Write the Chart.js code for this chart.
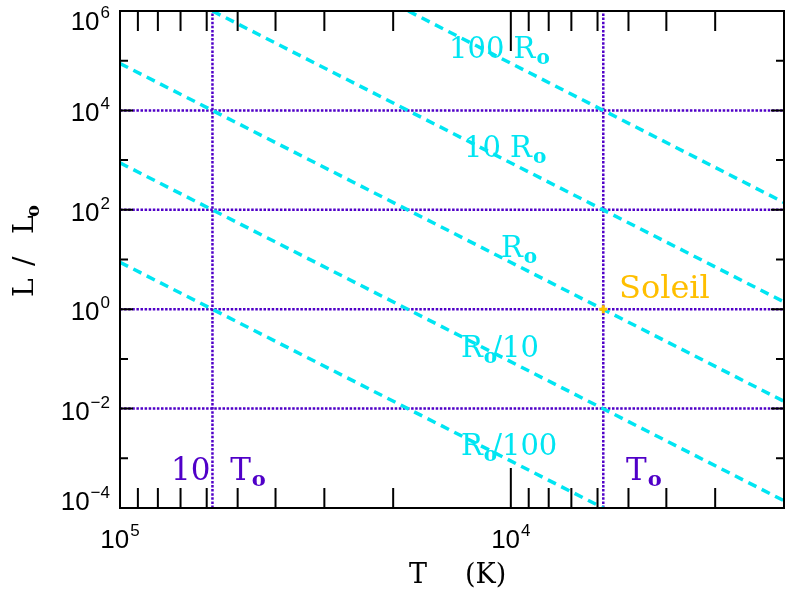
<!DOCTYPE html>
<html lang="fr">
<head>
<meta charset="UTF-8">
<title>L - T</title>
<script src="https://cdn.jsdelivr.net/npm/chart.js"></script>
<style>
  body { margin: 0; background: #fff; }
</style>
</head>
<body>
<canvas id="hr" width="800" height="600"></canvas>
<script>
// droites de rayon constant : extrémités [T, L]
const rayons = ['100 R', '10 R', 'R', 'R/10', 'R/100'];
const debut = [[18300, 1e6], [58000, 1e6], [1e5, 8.8e4], [1e5, 8.8e2], [1e5, 8.8]];
const fin = [[2000, 1.4e2], [2000, 1.4], [2000, 1.4e-2], [2000, 1.4e-4], [5800, 1e-4]];
// lignes pointillées
const grilleL = [1e4, 1e2, 1, 1e-2];
const grilleT = [58000, 5800];
const soleil = [5800, 1];
// graduations
const xExp = [5, 4];
const yExp = [-4, -2, 0, 2, 4, 6];
const xMineur = [90000, 80000, 70000, 60000, 50000, 40000, 30000, 20000,
                 9000, 8000, 7000, 6000, 5000, 4000, 3000, 2000];
const yMineur = [1e5, 1e3, 10, 0.1, 1e-3];

const CYAN = '#00e5f2';
const VIOLET = '#5000c8';
const OR = '#ffbf00';
const SERIF = '"DejaVu Serif"';
const SANS = '"Liberation Sans"';

const datasets = [];
grilleL.forEach(L => datasets.push({
  data: [{x: 1e5, y: L}, {x: 2000, y: L}],
  borderColor: VIOLET, borderWidth: 2.5, borderDash: [2.5, 1.6], pointRadius: 0, order: 3
}));
grilleT.forEach(T => datasets.push({
  data: [{x: T, y: 1e-4}, {x: T, y: 1e6}],
  borderColor: VIOLET, borderWidth: 2.5, borderDash: [2.5, 1.6], pointRadius: 0, order: 3
}));
rayons.forEach((r, i) => datasets.push({
  label: r,
  data: [{x: debut[i][0], y: debut[i][1]}, {x: fin[i][0], y: fin[i][1]}],
  borderColor: CYAN, borderWidth: 3.5, borderDash: [9, 6], pointRadius: 0, order: 2
}));
// le Soleil, par-dessus les droites
datasets.push({
  data: [{x: soleil[0], y: soleil[1]}],
  showLine: false, pointStyle: 'cross', pointRadius: 4, borderWidth: 3,
  borderColor: OR, backgroundColor: OR, order: 0
});

// texte en morceaux (indices, exposants)
function morceaux(ctx, parts, x, y, align) {
  let w = 0;
  parts.forEach(p => { ctx.font = p.f; p.w = ctx.measureText(p.t).width + (p.dx || 0); w += p.w; });
  let cx = align === 'right' ? x - w : align === 'center' ? x - w / 2 : x;
  parts.forEach(p => { ctx.font = p.f; ctx.fillText(p.t, cx + (p.dx || 0), y + (p.dy || 0)); cx += p.w; });
}
const n = (t, s) => ({t: t, f: s + 'px ' + SERIF});
const sub = (s) => ({t: 'o', f: 'bold ' + Math.round(s * 0.68) + 'px ' + SERIF, dy: 6, dx: 1});

const cadre = {
  id: 'cadre',
  afterDraw(chart) {
    const ctx = chart.ctx, a = chart.chartArea;
    const sx = chart.scales.x, sy = chart.scales.y;
    ctx.save();
    ctx.strokeStyle = '#000';
    ctx.lineWidth = 2;
    ctx.strokeRect(a.left, a.top, a.right - a.left, a.bottom - a.top);

    // graduations vers l'intérieur, sur les quatre côtés
    ctx.beginPath();
    const tx = (v, len) => {
      const px = sx.getPixelForValue(v);
      ctx.moveTo(px, a.bottom); ctx.lineTo(px, a.bottom - len);
      ctx.moveTo(px, a.top); ctx.lineTo(px, a.top + len);
    };
    const ty = (v, len) => {
      const py = sy.getPixelForValue(v);
      ctx.moveTo(a.left, py); ctx.lineTo(a.left + len, py);
      ctx.moveTo(a.right, py); ctx.lineTo(a.right - len, py);
    };
    xMineur.forEach(v => tx(v, 20));
    xExp.forEach(e => tx(Math.pow(10, e), 40));
    yMineur.forEach(v => ty(v, 8));
    yExp.forEach(e => ty(Math.pow(10, e), 13));
    ctx.stroke();

    // étiquettes des graduations
    ctx.fillStyle = '#000';
    ctx.textBaseline = 'alphabetic';
    const lab = e => [{t: '10', f: '26px ' + SANS},
                      {t: String(e).replace('-', '\u2212'), f: '17px ' + SANS, dy: -12, dx: 1}];
    xExp.forEach(e => morceaux(ctx, lab(e), sx.getPixelForValue(Math.pow(10, e)), 548, 'center'));
    yExp.forEach(e => {
      let b = sy.getPixelForValue(Math.pow(10, e)) + 11;
      b = Math.min(Math.max(b, 30), 510);
      morceaux(ctx, lab(e), 110, b, 'right');
    });

    // titres des axes
    ctx.font = '27px ' + SERIF;
    ctx.fillText('T', 409, 583);
    ctx.fillText('(K)', 465, 583);
    ctx.save();
    ctx.translate(33, 297);
    ctx.rotate(-Math.PI / 2);
    ctx.font = '28px ' + SERIF;
    ctx.fillText('L', 0, 0);
    ctx.fillText('/', 31, 0);
    ctx.fillText('L', 63, 0);
    ctx.font = 'bold 18px ' + SERIF;
    ctx.fillText('o', 80, 6);
    ctx.restore();

    // noms des droites
    ctx.fillStyle = CYAN;
    morceaux(ctx, [n('100 R', 29), sub(29)], 449, 58);
    morceaux(ctx, [n('10 R', 29), sub(29)], 464, 157);
    morceaux(ctx, [n('R', 29), sub(29)], 501, 257);
    morceaux(ctx, [n('R', 29), sub(29), Object.assign(n('/10', 29), {dx: -5})], 461, 357);
    morceaux(ctx, [n('R', 29), sub(29), Object.assign(n('/100', 29), {dx: -5})], 461, 455);

    ctx.fillStyle = VIOLET;
    morceaux(ctx, [n('10  T', 31), sub(31)], 171, 480);
    morceaux(ctx, [n('T', 31), sub(31)], 626, 480);

    ctx.fillStyle = OR;
    ctx.font = '32px ' + SERIF;
    ctx.fillText('Soleil', 619, 298);
    ctx.restore();
  }
};

new Chart(document.getElementById('hr'), {
  type: 'line',
  data: {datasets: datasets},
  options: {
    responsive: false,
    animation: false,
    layout: {padding: {left: 120, right: 16, top: 11, bottom: 92}},
    plugins: {legend: {display: false}, tooltip: {enabled: false}},
    scales: {
      x: {type: 'logarithmic', min: 2000, max: 1e5, reverse: true, display: false},
      y: {type: 'logarithmic', min: 1e-4, max: 1e6, display: false}
    }
  },
  plugins: [cadre]
});
</script>
</body>
</html>
